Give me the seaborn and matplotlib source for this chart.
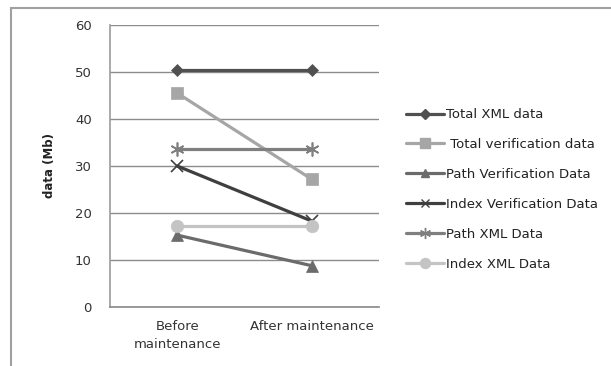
import matplotlib
matplotlib.use("Agg")
import matplotlib.pyplot as plt
from matplotlib.patches import Rectangle
from matplotlib.lines import Line2D
import seaborn as sns
import pandas as pd

# Chart data
stages = ["Before\nmaintenance", "After maintenance"]
total_xml = [50.4, 50.4]
total_verification = [45.5, 27.2]
path_verification = [15.3, 8.8]
index_verification = [30.0, 18.3]
path_xml = [33.6, 33.6]
index_xml = [17.3, 17.3]

series_names = ["Total XML data", " Total verification data", "Path Verification Data",
                "Index Verification Data", "Path XML Data", "Index XML Data"]
series_values = [total_xml, total_verification, path_verification,
                 index_verification, path_xml, index_xml]
colors = ["#505050", "#a6a6a6", "#6b6b6b", "#3f3f3f", "#7f7f7f", "#c4c4c4"]
markers = ["D", "s", "^", "x", (6, 2, 0), "o"]
msizes = [6, 9, 8, 8, 10, 9]

rows = []
for name, vals in zip(series_names, series_values):
    for i, v in enumerate(vals):
        rows.append({"series": name, "pos": i, "value": v})
df = pd.DataFrame(rows)

sns.set_theme(style="white")
plt.rcParams["font.family"] = ["DejaVu Sans"]

fig = plt.figure(figsize=(6.11, 3.66), dpi=100)
ax = fig.add_axes([0.18, 0.161, 0.44, 0.771])

for name, col, mk, ms in zip(series_names, colors, markers, msizes):
    sub = df[df["series"] == name]
    sns.lineplot(data=sub, x="pos", y="value", ax=ax, color=col, linewidth=2.3,
                 marker=mk, markersize=ms, markeredgecolor=col,
                 markeredgewidth=1.2 if mk in ("x", (6, 2, 0)) else 0.5,
                 legend=False, zorder=3)

ax.set_xlim(-0.5, 1.5)
ax.set_ylim(0, 60)
ax.set_yticks(range(0, 61, 10))
ax.set_xticks([0, 1])
ax.set_xticklabels(stages, fontsize=9.5, color="#333333", linespacing=1.5)
ax.tick_params(axis="y", labelsize=9.5, labelcolor="#333333", length=0, pad=13)
ax.tick_params(axis="x", length=0, pad=9)
ax.set_xlabel("")
ax.set_ylabel("data (Mb)", fontsize=8.5, fontweight="bold", color="#222222", labelpad=14)
ax.grid(axis="y", color="#8c8c8c", linewidth=1.0)
ax.set_axisbelow(True)
for s in ["top", "right"]:
    ax.spines[s].set_visible(False)
ax.spines["left"].set_color("#a0a0a0")
ax.spines["bottom"].set_color("#8c8c8c")

# Outer chart frame
fig.patches.append(Rectangle((11 / 611, -0.05), 1.2, 1 - 8 / 366 + 0.05,
                             transform=fig.transFigure, fill=False,
                             edgecolor="#a0a0a0", linewidth=1.5, zorder=0))

handles = [Line2D([0], [0], color=c, linewidth=2.3, marker=m, markersize=s * 0.8,
                  markeredgecolor=c)
           for c, m, s in zip(colors, markers, msizes)]
fig.legend(handles, series_names, loc="upper left", bbox_to_anchor=(0.645, 0.737),
           frameon=False, fontsize=9.5, handlelength=2.9, handletextpad=0.1,
           labelspacing=1.28, labelcolor="#222222")

fig.savefig("out.png", dpi=100)
